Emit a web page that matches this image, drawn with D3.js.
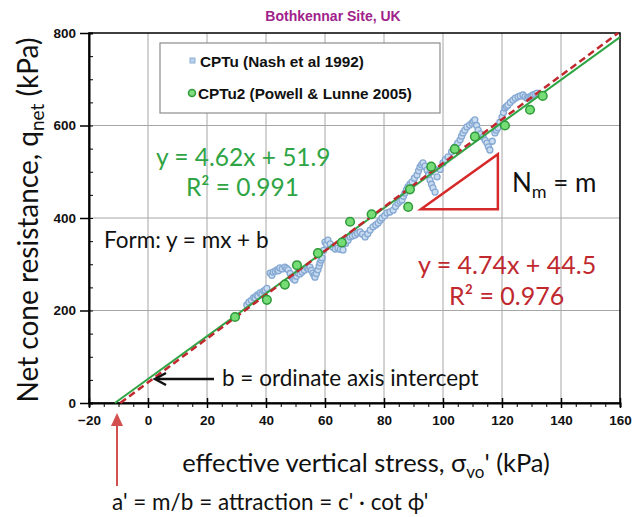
<!DOCTYPE html>
<html>
<head>
<meta charset="utf-8">
<script src="https://cdn.jsdelivr.net/npm/d3@7"></script>
<style>
  html, body { margin: 0; padding: 0; background: #fff; }
  svg { display: block; }
</style>
</head>
<body>
<svg id="chart" width="634" height="517"></svg>
<script>
// Axis ticks
const xTicks = [-20, 0, 20, 40, 60, 80, 100, 120, 140, 160];
const yTicks = [0, 200, 400, 600, 800];

// CPTu (Nash et al 1992): [sigma_vo' (kPa), q_net (kPa)]
const cptuNash = [
  [33.5,212],[34.2,218],[35,222],[35.8,228],[36.3,227],[36.9,233],[37.3,231],[38,238],[38.6,236],[39.2,242],[39.7,244],[40.3,248],
  [41.4,281],[42,276],[42.4,283],[43.1,285],[43.7,288],[44.2,286],[44.7,292],[45.5,290],[46.4,294],[47,291],[47.5,288],[48.2,280],
  [48.8,272],[49.3,268],[49.8,266],[50.3,274],[50.8,281],[51.5,279],[52.2,283],[53,287],[53.9,292],[54.4,290],[54.9,294],[55.4,287],
  [55.9,281],[56.3,276],[56.6,272],[57.1,280],[57.6,288],[58,296],[58.3,303],[58.7,309],[59,314],[59.5,330],[60,348],
  [60.5,343],[61,352],[61.8,344],[62.7,337],[63.5,333],[64.4,335],[65.2,332],[66.1,331],[67,345],[67.8,352],[68.5,359],[69.3,361],
  [70.2,363],[71,367],[71.9,370],[72.7,365],[73.6,359],[74.5,366],[75.3,374],[76.3,381],[77.2,385],[78,389],[78.7,395],[79.3,400],
  [80.2,405],[81,411],[82,413],[83.1,417],[83.9,425],[84.7,432],[85.4,436],[86.1,439],[86.6,447],[87.1,454],[87.6,461],[88.1,467],
  [88.8,473],[89.5,478],[90.3,486],[91.2,493],[91.7,502],[92.2,510],[92.7,515],[93.2,519],[93.9,512],[94.6,504],[95.1,493],[95.6,482],
  [96.1,473],[96.6,465],[97.3,456],[96,500],[97,506],
  [98,489],[99,505],[100,519],[100.8,526],[101.7,532],[102.9,543],[104.1,554],[105,562],[105.8,569],[106.3,577],[106.8,584],[107.4,590],
  [108.1,597],[109,601],[109.8,605],[110.3,609],[110.8,612],[111.4,600],[111.9,590],[112.7,582],[113.6,575],[114.3,568],[114.9,562],
  [115.4,554],[115.9,547],[116.7,566],[117.6,584],[118.1,590],[118.6,595],[119.3,607],[120,618],[120.5,628],[121,638],[121.5,641],
  [122,644],[122.8,650],[123.7,655],[124.5,659],[125.4,662],[126.2,664],[127.1,666],[127.8,662],[128.5,659],[129,661],[129.5,662],
  [130,664],[130.5,666],[131.2,668],[131.9,670]
];

// CPTu2 (Powell & Lunne 2005)
const cptuPowell = [
  [29.5,186],[40.3,223],[46.4,256],[50.5,298],[57.6,324],[65.7,347],[68.5,392],[75.8,408],[88.2,424],[88.8,462],
  [96,511],[104,549],[110.8,576],[121,600],[129.5,634],[133.8,664]
];

// Linear fits: slope m, intercept b
const fitPowell = { m: 4.62, b: 51.9 };
const fitNash = { m: 4.74, b: 44.5 };

// Slope triangle vertices in data units
const slopeTriangle = [[92.5,419],[118.6,538],[118.6,419]];

const svg = d3.select("#chart");
const x = d3.scaleLinear().domain([-20, 160]).range([89, 620]);
const y = d3.scaleLinear().domain([0, 800]).range([403, 33]);

const FONT = "Lato, 'Open Sans', sans-serif";
const BOLD = "'Liberation Sans', Arial, sans-serif";
const GREEN = "#2fa444";
const RED = "#c0282e";

// grid
const grid = svg.append("g").attr("stroke", "#a6a6a6").attr("stroke-width", 1);
grid.selectAll(".vg").data(xTicks.slice(1, -1)).join("line")
  .attr("x1", d => x(d)).attr("x2", d => x(d)).attr("y1", y(0)).attr("y2", y(800));
grid.selectAll(".hg").data(yTicks.slice(1, -1)).join("line")
  .attr("x1", x(-20)).attr("x2", x(160)).attr("y1", d => y(d)).attr("y2", d => y(d));

// frame
svg.append("rect").attr("x", x(-20)).attr("y", y(800))
  .attr("width", x(160) - x(-20)).attr("height", y(0) - y(800))
  .attr("fill", "none").attr("stroke", "#000").attr("stroke-width", 1.5);

// x axis with minor ticks
const xAxis = svg.append("g").attr("transform", `translate(0,${y(0)})`);
xAxis.call(d3.axisBottom(x).tickValues(d3.range(-20, 161, 5)).tickSize(4).tickFormat(""));
xAxis.call(g => g.select(".domain").attr("stroke-width", 2));
const xMaj = svg.append("g").attr("transform", `translate(0,${y(0)})`);
xMaj.call(d3.axisBottom(x).tickValues(xTicks).tickSize(5).tickPadding(7).tickFormat(d3.format("d")));
xMaj.select(".domain").remove();
xMaj.selectAll(".tick line").attr("y1", -5).attr("stroke-width", 1.5);
xMaj.selectAll("text").attr("font-family", BOLD).attr("font-weight", "bold").attr("font-size", 13.5).attr("fill", "#111");

// y axis with minor ticks
const yAxis = svg.append("g").attr("transform", `translate(${x(-20)},0)`);
yAxis.call(d3.axisLeft(y).tickValues(d3.range(0, 801, 50)).tickSize(-4).tickFormat(""));
yAxis.call(g => g.select(".domain").attr("stroke-width", 2));
const yMaj = svg.append("g").attr("transform", `translate(${x(-20)},0)`);
yMaj.call(d3.axisLeft(y).tickValues(yTicks).tickSize(9).tickPadding(4).tickFormat(d3.format("d")));
yMaj.select(".domain").remove();
yMaj.selectAll(".tick line").attr("stroke-width", 1.5);
yMaj.selectAll("text").attr("font-family", BOLD).attr("font-weight", "bold").attr("font-size", 13.5).attr("fill", "#111");

// title
svg.append("text").attr("x", 333).attr("y", 21).attr("text-anchor", "middle")
  .attr("font-family", BOLD).attr("font-weight", "bold").attr("font-size", 14)
  .attr("fill", "#a0228a").text("Bothkennar Site, UK");

// axis titles
const xt = svg.append("text").attr("x", 366).attr("y", 472).attr("text-anchor", "middle")
  .attr("font-family", FONT).attr("font-size", 25.5).attr("fill", "#111");
xt.append("tspan").text("effective vertical stress, σ");
xt.append("tspan").attr("font-size", 17).attr("dy", 6).text("vo");
xt.append("tspan").attr("dy", -6).text("' (kPa)");

const yt = svg.append("text").attr("transform", `translate(38,220) rotate(-90)`).attr("text-anchor", "middle")
  .attr("font-family", FONT).attr("font-size", 28).attr("fill", "#111");
yt.append("tspan").text("Net cone resistance, q");
yt.append("tspan").attr("font-size", 19).attr("dy", 6).text("net");
yt.append("tspan").attr("dy", -6).text(" (kPa)");

// legend
const lg = svg.append("g");
lg.append("rect").attr("x", 160).attr("y", 43).attr("width", 280).attr("height", 70)
  .attr("fill", "#fff").attr("stroke", "#8c8c8c").attr("stroke-width", 1.2);
lg.append("rect").attr("x", 190).attr("y", 58).attr("width", 5).attr("height", 5)
  .attr("fill", "#b9d1ea").attr("stroke", "#8fb0d6");
lg.append("text").attr("x", 200).attr("y", 67).attr("font-family", BOLD).attr("font-weight", "bold")
  .attr("font-size", 15.3).attr("fill", "#111").text("CPTu (Nash et al 1992)");
lg.append("circle").attr("cx", 192).attr("cy", 93).attr("r", 3.5)
  .attr("fill", "#7fdc7f").attr("stroke", "#2f9a3a").attr("stroke-width", 1.5);
lg.append("text").attr("x", 198).attr("y", 99).attr("font-family", BOLD).attr("font-weight", "bold")
  .attr("font-size", 15.3).attr("fill", "#111").text("CPTu2 (Powell & Lunne 2005)");

// data points
svg.append("g").selectAll("circle").data(cptuNash).join("circle")
  .attr("cx", d => x(d[0])).attr("cy", d => y(d[1])).attr("r", 3)
  .attr("fill", "#c9dcf0").attr("stroke", "#86a9d3").attr("stroke-width", 1.3);

// fit lines
function fitEnds(f) {
  const x0 = -f.b / f.m;
  const x1 = Math.min(160, (800 - f.b) / f.m);
  return [[x0, 0], [x1, f.m * x1 + f.b]];
}
const line = d3.line().x(d => x(d[0])).y(d => y(d[1]));
svg.append("path").attr("d", line(fitEnds(fitPowell))).attr("fill", "none")
  .attr("stroke", GREEN).attr("stroke-width", 2);
svg.append("path").attr("d", line(fitEnds(fitNash))).attr("fill", "none")
  .attr("stroke", RED).attr("stroke-width", 2.5).attr("stroke-dasharray", "7,4");

svg.append("g").selectAll("circle").data(cptuPowell).join("circle")
  .attr("cx", d => x(d[0])).attr("cy", d => y(d[1])).attr("r", 4.3)
  .attr("fill", "#76dc76").attr("stroke", "#2f9a3a").attr("stroke-width", 1.5);

// slope triangle
svg.append("path").attr("d", line(slopeTriangle) + "Z").attr("fill", "none")
  .attr("stroke", "#d62a2a").attr("stroke-width", 2.5);

// equations and annotations
const eq = (tx, ty, size, color, str) => svg.append("text").attr("x", tx).attr("y", ty)
  .attr("font-family", FONT).attr("font-size", size).attr("fill", color).text(str);
eq(156, 166, 24.5, GREEN, `y = ${fitPowell.m}x + ${fitPowell.b}`);
eq(186, 196, 24.5, GREEN, "R² = 0.991");
eq(418, 274, 25, RED, `y = ${fitNash.m}x + ${fitNash.b}`);
eq(449, 305, 25, RED, "R² = 0.976");
eq(104, 248, 22.5, "#111", "Form: y = mx + b");

const nm = svg.append("text").attr("x", 512).attr("y", 192)
  .attr("font-family", FONT).attr("font-size", 26).attr("fill", "#111");
nm.append("tspan").text("N");
nm.append("tspan").attr("font-size", 18).attr("dy", 6).text("m");
nm.append("tspan").attr("dy", -6).text(" = m");

// intercept arrow
svg.append("line").attr("x1", 214).attr("y1", 379).attr("x2", 156).attr("y2", 379)
  .attr("stroke", "#111").attr("stroke-width", 2.5);
svg.append("path").attr("d", "M166,373 L155,379 L166,385").attr("fill", "none")
  .attr("stroke", "#111").attr("stroke-width", 2.5);
eq(222, 386, 22.5, "#111", "b = ordinate axis intercept");

// attraction arrow
svg.append("line").attr("x1", 117).attr("y1", 486).attr("x2", 117).attr("y2", 422)
  .attr("stroke", "#d2504f").attr("stroke-width", 2);
svg.append("path").attr("d", "M111,426 L117,413 L123,426 Z").attr("fill", "#d2504f");
eq(112, 510, 22.5, "#111", "a' = m/b = attraction = c' · cot ϕ'");
</script>
</body>
</html>
